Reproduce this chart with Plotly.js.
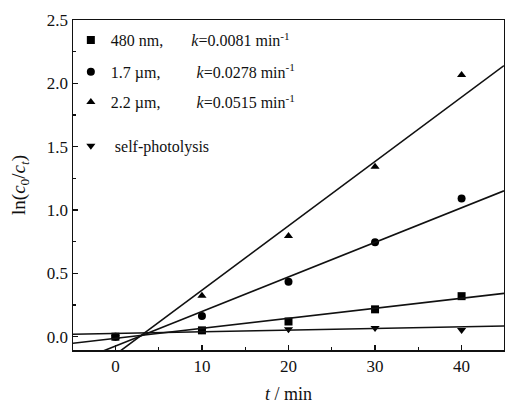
<!DOCTYPE html>
<html>
<head>
<meta charset="utf-8">
<script src="https://cdn.plot.ly/plotly-3.0.1.min.js"></script>
<style>html,body{margin:0;padding:0;background:#fff;}#chart{width:505px;height:404px;}</style>
</head>
<body>
<div id="chart"></div>
<script>
// time points (min)
const times = [0, 10, 20, 30, 40];
// ln(c0/ct) values
const y480nm   = [0.00, 0.05, 0.12, 0.216, 0.32];
const y1_7um   = [0.00, 0.163, 0.434, 0.745, 1.09];
const y2_2um   = [0.00, 0.324, 0.795, 1.342, 2.066];
const ySelf    = [0.00, 0.05, 0.058, 0.068, 0.053];
// fitted lines: slopes and intercepts as drawn
const fitSlopes     = [0.0079, 0.0273, 0.0508, 0.0013];
const fitIntercepts = [-0.013, -0.074, -0.141, 0.026];
const seriesNames = [
  '480 nm,\u00a0\u00a0\u00a0\u00a0\u00a0\u00a0\u00a0<i>k</i>=0.0081 min<sup>-1</sup>',
  '1.7 \u00b5m,\u00a0\u00a0\u00a0\u00a0\u00a0\u00a0\u00a0\u00a0\u00a0<i>k</i>=0.0278 min<sup>-1</sup>',
  '2.2 \u00b5m,\u00a0\u00a0\u00a0\u00a0\u00a0\u00a0\u00a0\u00a0\u00a0<i>k</i>=0.0515 min<sup>-1</sup>',
  '\u00a0self-photolysis'
];
const xRange = [-4.9, 44.9];

const font = {family: '"Liberation Serif", "Times New Roman", serif', size: 17, color: '#111'};
const series = [y480nm, y1_7um, y2_2um, ySelf];
const symbols = ['square', 'circle', 'triangle-up', 'triangle-down'];
const legendIds = ['legend', 'legend2', 'legend3', 'legend4'];
const legendY = [0.939, 0.843, 0.751, 0.619];

const traces = [];
series.forEach((ys, i) => {
  traces.push({
    x: times, y: ys, type: 'scatter', mode: 'markers', name: seriesNames[i],
    legend: legendIds[i],
    marker: {symbol: symbols[i], size: 8, color: '#000'},
    cliponaxis: false
  });
});
fitSlopes.forEach((b, i) => {
  const a = fitIntercepts[i];
  traces.push({
    x: xRange, y: xRange.map(x => a + b * x), type: 'scatter', mode: 'lines',
    showlegend: false, hoverinfo: 'skip',
    line: {color: '#111', width: 1.6}
  });
});

const layout = {
  width: 505, height: 404,
  margin: {l: 73, r: 1, t: 20, b: 54},
  paper_bgcolor: '#fff', plot_bgcolor: '#fff',
  font: font,
  xaxis: {
    range: xRange, tickvals: [0, 10, 20, 30, 40], ticktext: ['0', '10', '20', '30', '40'],
    ticks: 'inside', ticklen: 5, tickwidth: 1.2, tickcolor: '#111',
    minor: {tickvals: [5, 15, 25, 35], ticks: 'inside', ticklen: 3, tickcolor: '#111'},
    showline: true, linecolor: '#111', linewidth: 1.5, mirror: true,
    showgrid: false, zeroline: false,
    title: {text: '<i>t</i> / min', font: {family: font.family, size: 18, color: '#111'}, standoff: 12},
    tickfont: font
  },
  yaxis: {
    range: [-0.105, 2.5], tickvals: [0, 0.5, 1, 1.5, 2, 2.5],
    ticktext: ['0.0', '0.5', '1.0', '1.5', '2.0', '2.5'],
    ticks: 'inside', ticklen: 5, tickwidth: 1.2, tickcolor: '#111',
    minor: {tickvals: [0.25, 0.75, 1.25, 1.75, 2.25], ticks: 'inside', ticklen: 3, tickcolor: '#111'},
    showline: true, linecolor: '#111', linewidth: 1.5, mirror: true,
    showgrid: false, zeroline: false,
    title: {text: 'ln(<i>c</i><sub>0</sub>/<i>c</i><sub><i>t</i></sub>)', font: {family: font.family, size: 19, color: '#111'}, standoff: 16},
    tickfont: font
  },
  showlegend: true
};
legendIds.forEach((id, i) => {
  layout[id] = {
    x: -0.005, xanchor: 'left', y: legendY[i], yanchor: 'middle',
    bgcolor: 'rgba(0,0,0,0)', borderwidth: 0,
    font: {family: font.family, size: 16, color: '#111'}
  };
});

Plotly.newPlot('chart', traces, layout, {displayModeBar: false, staticPlot: true});
</script>
</body>
</html>
